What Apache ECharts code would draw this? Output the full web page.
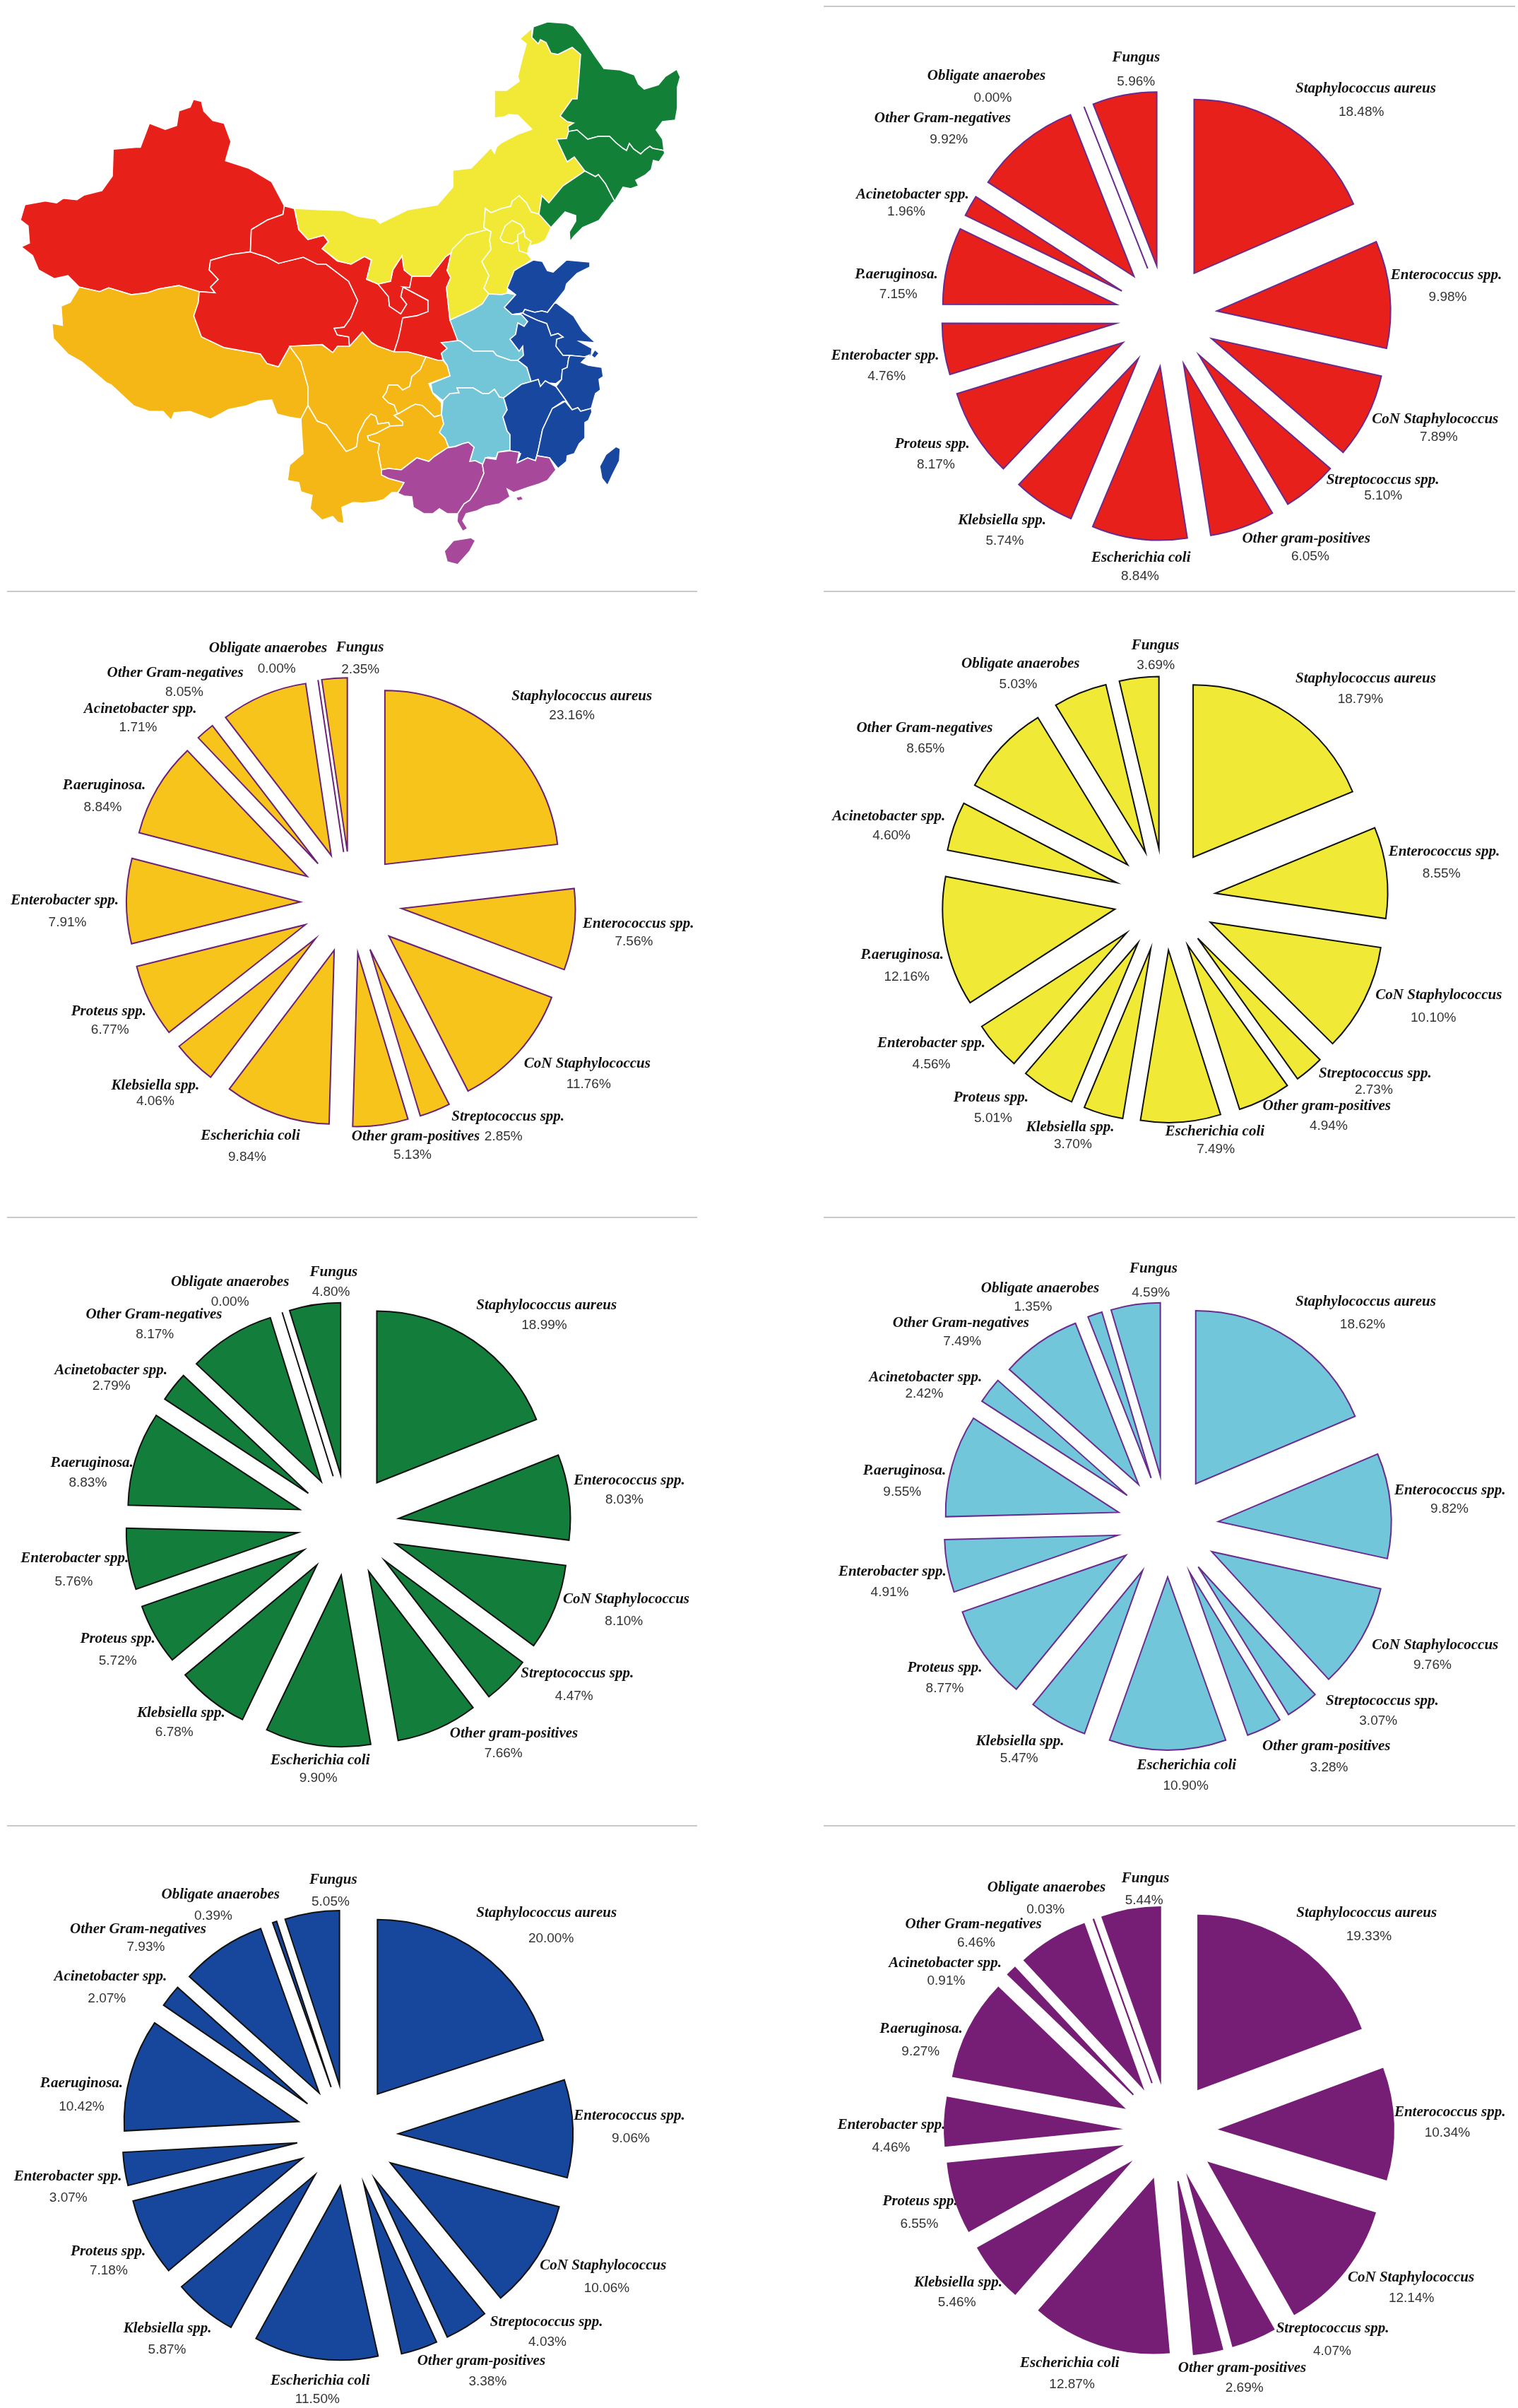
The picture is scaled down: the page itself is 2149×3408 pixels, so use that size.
<!DOCTYPE html>
<html lang="en">
<head>
    <meta charset="UTF-8">
    <script src="https://cdn.jsdelivr.net/npm/echarts@6/dist/echarts.min.js"></script>
    <title>Pathogen share by region of China</title>
    <style>
        html, body { margin: 0; padding: 0; background: #fff; }
    </style>
</head>
<body>
<div id="main" style="width: 2149px; height: 3408px"></div>
<script>

    var pathogens = ['Staphylococcus aureus', 'Enterococcus spp.', 'CoN Staphylococcus', 'Streptococcus spp.',
        'Other gram-positives', 'Escherichia coli', 'Klebsiella spp.', 'Proteus spp.', 'Enterobacter spp.',
        'P.aeruginosa.', 'Acinetobacter spp.', 'Other Gram-negatives', 'Obligate anaerobes', 'Fungus'];

    // percentages, same order as pathogens
    var northwest = [18.48, 9.98, 7.89, 5.10, 6.05, 8.84, 5.74, 8.17, 4.76, 7.15, 1.96, 9.92, 0.00, 5.96];
    var southwest = [23.16, 7.56, 11.76, 2.85, 5.13, 9.84, 4.06, 6.77, 7.91, 8.84, 1.71, 8.05, 0.00, 2.35];
    var north = [18.79, 8.55, 10.10, 2.73, 4.94, 7.49, 3.70, 5.01, 4.56, 12.16, 4.60, 8.65, 5.03, 3.69];
    var northeast = [18.99, 8.03, 8.10, 4.47, 7.66, 9.90, 6.78, 5.72, 5.76, 8.83, 2.79, 8.17, 0.00, 4.80];
    var central = [18.62, 9.82, 9.76, 3.07, 3.28, 10.90, 5.47, 8.77, 4.91, 9.55, 2.42, 7.49, 1.35, 4.59];
    var east = [20.00, 9.06, 10.06, 4.03, 3.38, 11.50, 5.87, 7.18, 3.07, 10.42, 2.07, 7.93, 0.39, 5.05];
    var south = [19.33, 10.34, 12.14, 4.07, 2.69, 12.87, 5.46, 6.55, 4.46, 9.27, 0.91, 6.46, 0.03, 5.44];

    var regionColors = {
        northwest: '#E8201A', southwest: '#F5B716', north: '#F1E936', northeast: '#138038',
        central: '#72C6D8', east: '#17479E', south: '#A7489A'
    };

    // western provinces, traced roughly (tracing units, see mapX / mapY)
    var coarseProvinces = [
        ['Xinjiang', 'northwest', [[45,575],[55,535],[100,525],[125,530],[140,518],[170,522],[185,510],[225,498],[248,460],[250,390],[300,385],[310,385],[330,322],[365,338],[390,328],[395,290],[420,280],[427,260],[445,265],[450,290],[470,315],[495,322],[510,370],[498,420],[550,440],[600,475],[628,538],[625,560],[590,575],[555,600],[553,658],[510,665],[465,680],[462,705],[482,730],[465,750],[475,765],[440,762],[395,746],[350,755],[325,765],[290,770],[240,752],[220,762],[175,750],[150,720],[120,728],[85,705],[72,668],[47,645],[65,635],[62,590]]],
        ['Tibet', 'southwest', [[175,750],[220,762],[240,752],[290,770],[325,765],[350,755],[395,746],[440,762],[438,790],[428,825],[445,880],[495,908],[575,925],[590,950],[615,958],[640,905],[665,945],[680,1010],[680,1060],[665,1095],[640,1090],[612,1082],[600,1045],[570,1048],[545,1060],[505,1070],[465,1095],[420,1075],[385,1078],[378,1098],[360,1075],[330,1075],[295,1060],[245,1005],[235,1000],[180,945],[150,925],[118,885],[115,845],[138,850],[135,800],[155,790]]],
        ['Qinghai', 'northwest', [[465,680],[510,665],[553,658],[590,672],[615,688],[670,672],[700,690],[720,690],[770,735],[790,785],[775,830],[760,855],[738,858],[745,875],[770,880],[772,905],[745,905],[735,922],[712,900],[640,905],[615,958],[590,950],[575,925],[495,908],[445,880],[428,825],[438,790],[440,762],[475,765],[465,750],[482,730],[462,705]]],
        ['Gansu', 'northwest', [[628,538],[650,545],[660,600],[680,625],[715,615],[725,632],[712,650],[745,682],[775,690],[805,670],[820,680],[810,730],[835,742],[858,775],[860,800],[885,820],[898,795],[885,775],[890,750],[945,785],[945,815],[920,825],[890,830],[885,860],[880,885],[870,920],[835,905],[820,895],[800,868],[772,905],[770,880],[745,875],[738,858],[760,855],[775,830],[790,785],[770,735],[720,690],[700,690],[670,672],[615,688],[590,672],[553,658],[555,600],[590,575],[625,560]]],
        ['Ningxia', 'northwest', [[888,668],[868,705],[862,735],[835,742],[858,775],[860,800],[885,820],[898,795],[885,775],[890,750],[905,752],[910,722],[893,705]]]
    ];

    // northern and eastern provinces, traced closer, already in page pixels
    var fineProvinces = [
        ['Shaanxi', 'northwest', [[643,355],[631,363],[609,391],[583,391],[580,407],[570,406],[606,425],[606,441],[590,447],[570,450],[567,466],[564,479],[558,498],[577,498],[603,505],[620,510],[627,510],[625,500],[633,493],[625,485],[647,483],[648,477],[637,453],[632,407],[638,393],[633,383],[640,353]]],
        ['Inner Mongolia', 'north', [[417,295],[455,297],[487,298],[506,306],[532,310],[538,316],[577,297],[619,290],[641,265],[641,241],[667,238],[695,209],[700,217],[703,208],[710,202],[733,190],[753,183],[733,163],[720,162],[715,165],[700,167],[700,128],[717,128],[735,115],[733,108],[740,80],[745,62],[736,55],[753,40],[753,53],[762,62],[765,56],[773,60],[780,75],[790,77],[810,67],[822,77],[819,117],[817,140],[810,140],[793,164],[803,172],[812,174],[804,179],[805,186],[802,196],[788,197],[795,212],[803,229],[813,222],[828,242],[797,263],[777,287],[767,277],[763,303],[752,300],[745,287],[735,277],[725,285],[723,292],[710,295],[695,301],[687,295],[685,322],[689,325],[660,333],[643,355],[631,363],[609,391],[583,391],[572,382],[569,362],[556,382],[553,398],[535,402],[519,395],[526,368],[516,363],[497,374],[478,369],[456,352],[465,342],[458,333],[436,339],[423,325]]],
        ['Hebei', 'north', [[763,303],[752,300],[745,287],[735,277],[725,285],[723,292],[710,295],[695,301],[687,295],[685,322],[695,328],[693,340],[695,353],[682,370],[692,390],[685,408],[692,416],[710,417],[718,415],[720,403],[735,380],[753,367],[747,360],[748,352],[750,348],[762,345],[772,340],[780,322]]],
        ['Beijing', 'north', [[725,312],[715,320],[708,337],[712,342],[725,345],[733,340],[735,332],[742,325],[737,318]]],
        ['Tianjin', 'north', [[733,332],[742,327],[743,335],[752,342],[748,352],[747,359],[735,355],[733,340]]],
        ['Shanxi', 'north', [[689,325],[695,328],[693,340],[695,353],[682,370],[692,390],[685,408],[692,416],[683,430],[670,438],[637,453],[632,407],[638,393],[633,383],[640,353],[660,333]]],
        ['Heilongjiang', 'northeast', [[755,38],[775,31],[802,33],[812,37],[825,53],[843,80],[855,97],[878,99],[898,106],[904,119],[912,126],[932,120],[942,108],[958,98],[963,109],[959,123],[959,153],[956,170],[938,172],[929,184],[938,197],[940,213],[924,210],[920,207],[913,212],[907,218],[897,211],[891,203],[887,213],[882,210],[872,202],[863,193],[847,193],[832,197],[817,184],[805,186],[804,179],[812,174],[803,172],[793,164],[810,140],[817,140],[819,117],[822,77],[810,67],[790,77],[780,75],[773,60],[765,56],[762,62],[753,53]]],
        ['Jilin', 'northeast', [[805,186],[817,184],[832,197],[847,193],[863,193],[872,202],[882,210],[887,213],[891,203],[897,211],[907,218],[913,212],[920,207],[924,210],[940,213],[941,217],[933,229],[925,227],[922,240],[913,248],[900,255],[904,263],[893,267],[882,265],[870,285],[857,260],[847,247],[843,250],[828,242],[813,222],[803,229],[795,212],[788,197],[802,196]]],
        ['Liaoning', 'northeast', [[828,242],[843,250],[847,247],[857,260],[870,285],[867,287],[857,300],[848,312],[825,322],[812,335],[807,342],[806,328],[815,313],[815,305],[800,300],[780,322],[763,303],[767,277],[777,287],[797,263]]],
        ['Henan', 'central', [[692,416],[710,417],[718,415],[730,417],[714,435],[725,445],[738,445],[747,455],[742,462],[733,457],[730,473],[722,480],[735,497],[740,490],[741,503],[733,510],[723,510],[703,503],[698,497],[670,497],[652,483],[648,482],[637,453],[670,438],[683,430]]],
        ['Hubei', 'central', [[648,482],[652,483],[670,497],[698,497],[703,503],[723,510],[733,510],[746,520],[752,540],[738,544],[713,563],[707,562],[700,551],[692,557],[683,557],[670,549],[647,549],[650,556],[637,557],[627,567],[612,555],[610,543],[637,532],[633,517],[627,508],[625,500],[633,493],[625,485]]],
        ['Hunan', 'central', [[627,567],[637,557],[650,556],[647,549],[670,549],[683,557],[692,557],[700,551],[707,562],[713,563],[718,580],[712,590],[718,610],[722,615],[722,637],[705,640],[702,648],[690,647],[683,657],[673,652],[665,653],[671,633],[663,626],[655,628],[643,632],[635,633],[630,620],[622,612],[628,600],[625,587]]],
        ['Shandong', 'east', [[755,368],[768,370],[775,383],[783,385],[802,368],[835,371],[835,378],[817,387],[802,402],[800,410],[785,429],[775,442],[767,440],[757,442],[743,438],[740,443],[725,445],[714,435],[730,417],[718,408],[728,383],[738,377]]],
        ['Jiangsu', 'east', [[785,429],[788,429],[812,447],[825,468],[843,485],[820,483],[838,493],[837,503],[828,505],[807,503],[797,503],[787,490],[788,480],[797,477],[790,472],[780,475],[774,458],[760,453],[743,445],[740,443],[743,438],[757,442],[767,440],[775,442]]],
        ['Shanghai', 'east', [[842,495],[848,500],[842,507],[837,503]]],
        ['Anhui', 'east', [[743,445],[760,453],[774,458],[780,475],[790,472],[797,477],[788,480],[787,490],[797,503],[807,503],[805,507],[803,520],[796,523],[795,537],[787,543],[777,542],[772,539],[765,547],[762,537],[752,540],[746,520],[733,510],[741,503],[740,490],[735,497],[722,480],[730,473],[733,457],[742,462],[747,455],[738,445],[725,445],[740,443]]],
        ['Zhejiang', 'east', [[807,503],[828,505],[833,503],[823,513],[833,517],[852,520],[854,533],[848,537],[850,552],[843,557],[837,578],[822,582],[818,577],[810,580],[802,568],[787,547],[795,537],[796,523],[803,520],[805,507]]],
        ['Jiangxi', 'east', [[752,540],[762,537],[765,547],[772,539],[777,542],[787,547],[802,568],[797,568],[782,578],[768,608],[762,637],[758,652],[747,648],[732,655],[737,642],[722,638],[722,615],[718,610],[712,590],[718,580],[713,563],[738,544]]],
        ['Fujian', 'east', [[800,568],[810,580],[818,577],[822,582],[837,578],[838,583],[833,595],[828,598],[828,620],[820,628],[813,642],[803,645],[802,653],[790,663],[778,648],[760,645],[762,637],[768,608],[782,578]]],
        ['Taiwan', 'east', [[872,632],[878,635],[877,652],[867,672],[860,687],[852,677],[849,660],[858,643]]],
        ['Sichuan', 'southwest', [[410,490],[456,488],[471,499],[478,490],[495,490],[513,470],[526,485],[535,490],[558,498],[577,498],[603,505],[595,523],[583,533],[580,547],[570,552],[563,545],[550,545],[547,555],[542,562],[550,570],[558,573],[563,586],[558,588],[570,597],[570,602],[552,603],[550,598],[535,600],[532,589],[525,586],[517,595],[507,615],[505,632],[500,635],[490,639],[462,601],[449,596],[436,574],[436,547],[426,512]]],
        ['Chongqing', 'southwest', [[603,505],[595,523],[583,533],[580,547],[570,552],[563,545],[550,545],[547,555],[542,562],[550,570],[558,573],[563,586],[558,588],[565,585],[582,575],[588,572],[598,574],[615,590],[625,587],[625,570],[613,557],[607,543],[637,532],[633,517],[627,510],[620,510]]],
        ['Guizhou', 'southwest', [[558,588],[565,585],[582,575],[588,572],[598,574],[615,590],[625,587],[628,600],[622,612],[630,620],[635,633],[615,646],[607,653],[590,648],[568,665],[550,663],[540,665],[535,640],[537,628],[522,623],[520,617],[533,613],[552,603],[570,602],[570,597]]],
        ['Yunnan', 'southwest', [[436,574],[449,596],[462,601],[490,639],[500,635],[505,632],[507,615],[517,595],[525,586],[532,589],[535,600],[550,598],[552,603],[533,613],[520,617],[522,623],[537,628],[535,640],[540,665],[540,672],[550,677],[572,683],[568,690],[563,697],[555,697],[543,707],[532,710],[513,712],[500,711],[484,718],[487,741],[478,739],[471,731],[456,736],[439,720],[442,701],[426,696],[423,683],[407,680],[410,658],[429,642],[426,593]]],
        ['Guangxi', 'south', [[540,665],[550,663],[568,665],[590,648],[607,653],[615,646],[633,634],[645,632],[655,628],[663,626],[671,633],[665,653],[673,652],[683,657],[685,670],[675,693],[665,708],[657,713],[648,727],[633,727],[622,720],[613,727],[600,727],[585,718],[583,703],[572,702],[563,698],[568,690],[572,683],[550,677],[540,672]]],
        ['Guangdong', 'south', [[722,638],[735,640],[732,655],[747,648],[758,652],[760,645],[778,648],[787,665],[775,680],[763,685],[747,690],[727,697],[718,692],[722,703],[707,713],[687,717],[675,723],[660,727],[655,737],[662,748],[655,752],[647,738],[648,727],[657,713],[665,708],[675,693],[685,670],[683,658],[687,648],[702,650],[705,640]]],
        ['Hong Kong', 'south', [[730,704],[738,702],[741,707],[733,709]]],
        ['Hainan', 'south', [[642,765],[667,761],[673,765],[665,780],[648,799],[633,795],[629,780]]]
    ];

    // label spots as [nameX, nameY, pctX, pctY], same order as pathogens, tracing units of each pie
    var northwestLabels = [[1220,232,1210,293],[1400,720,1403,777],[1375,1095,1383,1143],[1258,1255,1259,1296],[1087,1407,1096,1455],[718,1457,716,1506],[408,1360,414,1413],[252,1160,260,1215],[147,930,150,983],[172,718,176,769],[208,508,194,553],[275,309,289,365],[373,198,387,256],[707,150,707,213]];
    var southwestLabels = [[1285,250,1263,301],[1410,844,1400,892],[1297,1211,1300,1265],[1122,1349,1112,1401],[918,1401,911,1449],[553,1398,546,1455],[343,1267,343,1308],[240,1073,243,1122],[143,783,149,841],[230,483,227,540],[310,284,305,332],[387,189,407,239],[592,125,611,179],[795,123,796,180]];
    var northLabels = [[1220,223,1208,276],[1395,675,1389,733],[1383,1050,1371,1109],[1241,1255,1238,1297],[1133,1340,1137,1391],[883,1405,885,1452],[560,1394,566,1440],[383,1318,388,1372],[250,1175,250,1230],[185,945,195,1002],[155,582,161,633],[235,352,237,405],[449,183,444,238],[750,135,751,188]];
    var northeastLabels = [[1207,235,1202,287],[1390,693,1379,743],[1383,1003,1378,1061],[1275,1197,1268,1257],[1135,1354,1112,1407],[707,1424,703,1471],[400,1300,385,1351],[260,1107,260,1164],[165,897,163,957],[203,648,194,699],[245,405,246,447],[340,260,342,311],[508,174,508,226],[737,148,731,200]];
    var centralLabels = [[1220,226,1213,285],[1408,719,1407,768],[1375,1124,1369,1176],[1257,1270,1248,1321],[1132,1388,1138,1443],[820,1437,818,1492],[448,1375,446,1420],[280,1182,280,1236],[163,931,157,986],[190,667,185,723],[237,423,234,466],[316,281,319,330],[493,191,477,239],[746,140,740,203]];
    var eastLabels = [[1207,257,1217,323],[1390,791,1393,851],[1332,1185,1340,1245],[1207,1333,1209,1386],[1063,1437,1077,1491],[707,1488,701,1537],[370,1350,369,1407],[239,1147,240,1198],[150,951,151,1007],[180,705,180,766],[244,424,236,481],[305,298,322,346],[487,208,471,263],[736,168,730,226]];
    var southLabels = [[1222,257,1227,318],[1408,781,1402,836],[1321,1216,1322,1271],[1146,1350,1145,1410],[944,1454,949,1508],[559,1441,564,1498],[310,1229,307,1283],[225,1015,223,1075],[161,815,160,874],[227,561,226,622],[281,388,283,435],[344,286,350,334],[507,190,505,247],[728,165,725,223]];

    var PIE_OFFSET = 72;
    var NAME_LINE = 24;

    // one entry per pie: values, colours, centre, radius and the tracing frame of its labels
    var pies = [
        {values: northwest, labels: northwestLabels, fill: '#E8201B', line: '#6A2B8E', center: [1651, 447], radius: 246, frame: [1160, 0, 0.634, 0.5417]},
        {values: southwest, labels: southwestLabels, fill: '#F6C41A', line: '#6B2177', center: [497, 1277], radius: 246, frame: [0, 850, 0.641, 0.5417]},
        {values: north, labels: northLabels, fill: '#F0EA36', line: '#111111', center: [1649, 1273], radius: 244, frame: [1160, 840, 0.634, 0.5417]},
        {values: northeast, labels: northeastLabels, fill: '#137E3B', line: '#111111', center: [493, 2158], radius: 243, frame: [0, 1720, 0.641, 0.5417]},
        {values: central, labels: centralLabels, fill: '#71C6D9', line: '#6A2C8E', center: [1653, 2160], radius: 245, frame: [1160, 1720, 0.634, 0.5417]},
        {values: east, labels: eastLabels, fill: '#17479D', line: '#111111', center: [492, 3022], radius: 247, frame: [0, 2570, 0.641, 0.5372]},
        {values: south, labels: southLabels, fill: '#761D76', line: '#761D76', center: [1655, 3016], radius: 246, frame: [1160, 2570, 0.634, 0.5372]}
    ];

    // [x1, x2, y]
    var separators = [[1166, 2145, 9], [10, 987, 837], [1166, 2145, 837], [10, 987, 1723], [1166, 2145, 1723], [10, 987, 2584], [1166, 2145, 2584]];

    function mapX(x) { return x * 0.641; }
    function mapY(y) { return y * 0.5417; }

    var provinces = coarseProvinces.map(function (p) {
        return [p[0], p[1], p[2].map(function (pt) { return [mapX(pt[0]), mapY(pt[1])]; })];
    }).concat(fineProvinces);

    function buildMap() {
        var features = [];
        var minX = Infinity, minY = Infinity, maxX = -Infinity, maxY = -Infinity;
        provinces.forEach(function (p) {
            var ring = p[2].map(function (pt) {
                minX = Math.min(minX, pt[0]); maxX = Math.max(maxX, pt[0]);
                minY = Math.min(minY, pt[1]); maxY = Math.max(maxY, pt[1]);
                return [pt[0], -pt[1]];
            });
            ring.push(ring[0]);
            features.push({type: 'Feature', properties: {name: p[0]}, geometry: {type: 'Polygon', coordinates: [ring]}});
        });
        echarts.registerMap('regions', {type: 'FeatureCollection', features: features});
        return {left: minX, top: minY, width: maxX - minX, height: maxY - minY};
    }

    function buildPie(pie) {
        return {
            type: 'pie',
            center: pie.center,
            radius: [0, pie.radius],
            startAngle: 90,
            clockwise: true,
            minAngle: 0,
            animation: false,
            silent: true,
            selectedMode: 'multiple',
            selectedOffset: PIE_OFFSET,
            emphasis: {disabled: true},
            itemStyle: {color: pie.fill, borderColor: pie.line, borderWidth: 2, borderJoin: 'miter'},
            label: {show: false},
            labelLine: {show: false},
            data: pathogens.map(function (name, i) {
                return {name: name, value: pie.values[i], selected: true};
            })
        };
    }

    // the labels sit where the original author dragged them, so they go on as graphic text
    function buildLabels(pie) {
        var f = pie.frame;
        return pathogens.map(function (name, i) {
            var s = pie.labels[i];
            var x = f[0] + s[0] * f[2], y = f[1] + s[1] * f[3];
            var px = f[0] + s[2] * f[2], py = f[1] + s[3] * f[3];
            var dx = px - x;
            return {
                type: 'text',
                silent: true,
                x: x,
                y: y - NAME_LINE / 2,
                style: {
                    text: '{n|' + name + '}\n{p|' + pie.values[i].toFixed(2) + '%}',
                    align: 'center',
                    verticalAlign: 'top',
                    rich: {
                        n: {fontFamily: '"Liberation Serif"', fontStyle: 'italic', fontWeight: 'bold', fontSize: 21, fill: '#111', align: 'center', lineHeight: NAME_LINE},
                        p: {fontFamily: '"Liberation Sans"', fontSize: 19, fill: '#333', align: 'center',
                            lineHeight: 2 * (py - y - NAME_LINE / 2),
                            padding: dx > 0 ? [0, 0, 0, 2 * dx] : [0, -2 * dx, 0, 0]}
                    }
                }
            };
        });
    }

    var chart = echarts.init(document.getElementById('main'));
    var box = buildMap();

    var series = [{
        type: 'map',
        map: 'regions',
        aspectScale: 1,
        left: box.left,
        top: box.top,
        width: box.width,
        height: box.height,
        silent: true,
        animation: false,
        selectedMode: false,
        label: {show: false},
        emphasis: {disabled: true},
        itemStyle: {borderColor: '#ffffff', borderWidth: 1.6},
        data: provinces.map(function (p) {
            return {name: p[0], value: 1, itemStyle: {areaColor: regionColors[p[1]]}};
        })
    }].concat(pies.map(buildPie));

    var lines = separators.map(function (s) {
        return {type: 'line', silent: true, shape: {x1: s[0], y1: s[2], x2: s[1], y2: s[2]}, style: {stroke: '#c9c9c9', lineWidth: 2}};
    });
    var texts = [];
    pies.forEach(function (pie) {
        texts = texts.concat(buildLabels(pie));
    });

    chart.setOption({
        backgroundColor: '#ffffff',
        animation: false,
        tooltip: {show: false},
        graphic: lines.concat(texts),
        series: series
    });

</script>
</body>
</html>
